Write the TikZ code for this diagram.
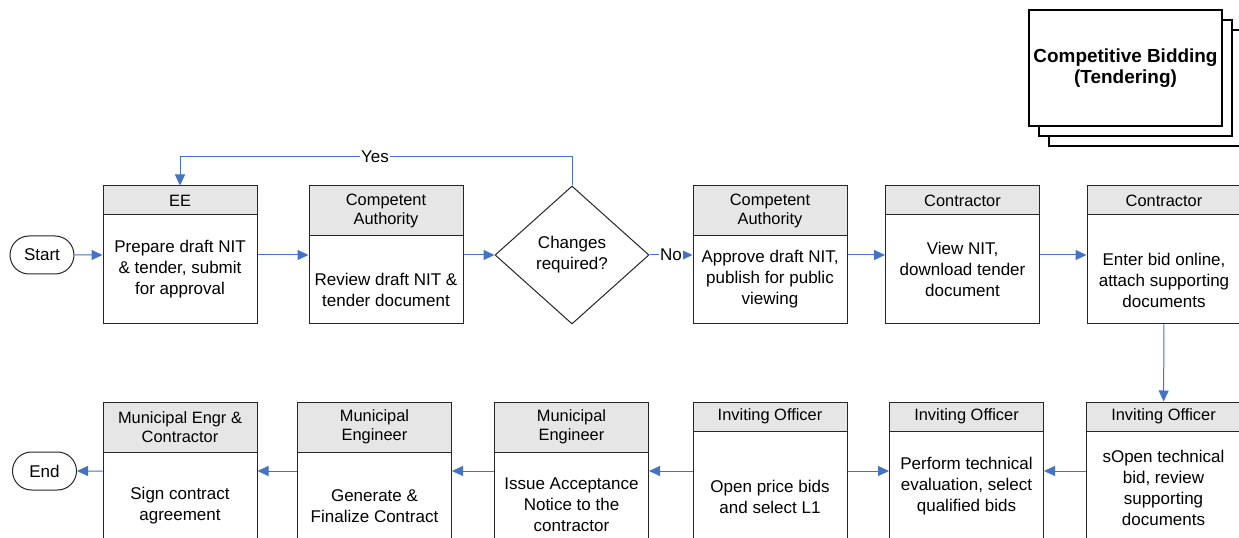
\documentclass[tikz,border=0pt]{standalone}
\usepackage{fontspec}
\setmainfont{Liberation Sans}
\usetikzlibrary{arrows.meta,shapes.geometric,shapes.misc}
\definecolor{flowblue}{HTML}{4472C4}
\definecolor{headgray}{HTML}{E6E6E6}
\begin{document}
\begin{tikzpicture}[x=0.75pt,y=-0.75pt,
  boxframe/.style={draw=black!85, line width=0.75pt, fill=white,
    minimum width=115.5pt, minimum height=103.5pt, inner sep=0pt},
  headone/.style={draw=black!85, line width=0.75pt, fill=headgray,
    minimum width=115.5pt, minimum height=21.75pt, inner sep=0pt,
    anchor=north, align=center, font=\fontsize{12.3}{14.25}\selectfont},
  headtwo/.style={headone, minimum height=37.5pt},
  bodytext/.style={align=center, inner sep=0pt,
    font=\fontsize{12.75}{15.75}\selectfont},
  term/.style={draw=black!85, line width=0.75pt, rounded rectangle,
    minimum width=48pt, minimum height=28.5pt, inner sep=0pt,
    font=\fontsize{12.75}{15.75}\selectfont},
  decision/.style={draw=black!85, line width=0.75pt, diamond, fill=white,
    minimum width=115.5pt, minimum height=103.5pt, inner sep=0pt,
    align=center, font=\fontsize{12.75}{15.75}\selectfont},
  conn/.style={draw=flowblue, line width=0.75pt,
    -{Triangle[length=8.25pt,width=7.5pt]}},
  edgelabel/.style={fill=white, inner sep=1pt,
    font=\fontsize{12.75}{15.75}\selectfont},
  sheet/.style={draw=black, line width=1.1pt, fill=white},
]
\useasboundingbox (0,0) rectangle (1239,538);
\clip (0,0) rectangle (1239,538);

% stacked sheets with the process title
\draw[sheet] (1049,30) rectangle (1242,146);
\draw[sheet] (1039,20) rectangle (1232,136);
\draw[sheet] (1029,10) rectangle (1222,126);
\node[align=center, inner sep=0pt, font=\fontsize{14.2}{16}\selectfont\bfseries]
  (title) at (1125.5,68) {Competitive Bidding\\(Tendering)};

% terminals
\node[term] (start) at (42,255) {Start};
\node[term] (end) at (44.5,471) {End};

% upper row
\node[boxframe] (b1) at (180,255) {};
\node[headone] (b1h) at (b1.north) {EE};
\node[bodytext] (b1t) at (180,269) {Prepare draft NIT\\\& tender, submit\\for approval};

\node[boxframe] (b2) at (386,255) {};
\node[headtwo] (b2h) at (b2.north) {Competent\\Authority};
\node[bodytext] (b2t) at (386,289.5) {Review draft NIT \&\\tender document};

\node[decision] (d) at (572,255) {Changes\\required?};

\node[boxframe] (b3) at (770,255) {};
\node[headtwo] (b3h) at (b3.north) {Competent\\Authority};
\node[bodytext] (b3t) at (770,279) {Approve draft NIT,\\publish for public\\viewing};

\node[boxframe] (b4) at (962.5,255) {};
\node[headone] (b4h) at (b4.north) {Contractor};
\node[bodytext] (b4t) at (962.5,269) {View NIT,\\download tender\\document};

\node[boxframe] (b5) at (1164,255) {};
\node[headone] (b5h) at (b5.north) {Contractor};
\node[bodytext] (b5t) at (1164,280) {Enter bid online,\\attach supporting\\documents};

% lower row
\node[boxframe] (c1) at (180,471) {};
\node[headtwo] (c1h) at (c1.north) {Municipal Engr \&\\Contractor};
\node[bodytext] (c1t) at (180,505.5) {Sign contract\\agreement};

\node[boxframe] (c2) at (374.5,471) {};
\node[headtwo] (c2h) at (c2.north) {Municipal\\Engineer};
\node[bodytext] (c2t) at (374.5,506) {Generate \&\\Finalize Contract};

\node[boxframe] (c3) at (571.5,471) {};
\node[headtwo] (c3h) at (c3.north) {Municipal\\Engineer};
\node[bodytext] (c3t) at (571.5,505) {Issue Acceptance\\Notice to the\\contractor};

\node[boxframe] (c4) at (770,471) {};
\node[headone] (c4h) at (c4.north) {Inviting Officer};
\node[bodytext] (c4t) at (770,496.5) {Open price bids\\and select L1};

\node[boxframe] (c5) at (966.5,471) {};
\node[headone] (c5h) at (c5.north) {Inviting Officer};
\node[bodytext] (c5t) at (966.5,486.5) {Perform technical\\evaluation, select\\qualified bids};

\node[boxframe] (c6) at (1163.5,471) {};
\node[headone] (c6h) at (c6.north) {Inviting Officer};
\node[bodytext] (c6t) at (1163.5,488) {sOpen technical\\bid, review\\supporting\\documents};

% connectors, upper row
\draw[conn] (start) -- (b1);
\draw[conn] (b1) -- (b2);
\draw[conn] (b2) -- (d);
\draw[conn] (d.east) -- node[edgelabel] {No} (b3);
\draw[conn] (b3) -- (b4);
\draw[conn] (b4) -- (b5);
\draw[conn] (b5) -- (c6);

% loop back when changes are needed
\draw[conn] (d.north) -- ++(0,-29) coordinate (loopcorner) -| (b1h.north);
\node[edgelabel] (yes) at (375,157) {Yes};

% connectors, lower row
\draw[conn] (c6) -- (c5);
\draw[conn] (c4) -- (c5);
\draw[conn] (c4) -- (c3);
\draw[conn] (c3) -- (c2);
\draw[conn] (c2) -- (c1);
\draw[conn] (c1) -- (end);
\end{tikzpicture}
\end{document}
